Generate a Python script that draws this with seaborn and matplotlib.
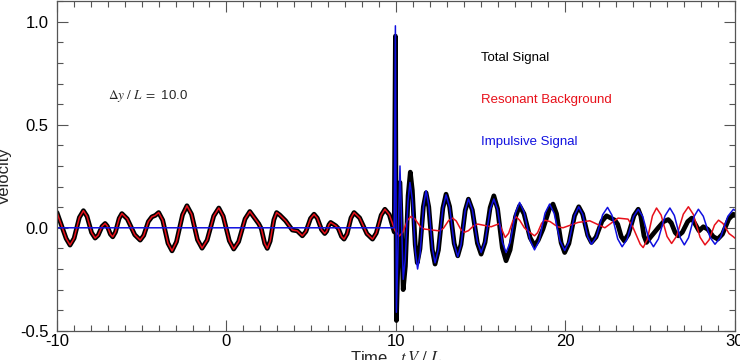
import matplotlib
matplotlib.use('Agg')
import matplotlib.pyplot as plt
import seaborn as sns
from matplotlib.ticker import MultipleLocator

# Resonant background
t_bg = [-10.0, -9.46, -9.23, -8.99, -8.68, -8.44, -8.23, -7.96, -7.75, -7.57,
        -7.34, -7.16, -7.03, -6.85, -6.71, -6.55, -6.33, -6.17, -5.85, -5.41,
        -5.09, -4.88, -4.61, -4.40, -4.20, -4.00, -3.76, -3.45, -3.21, -2.95,
        -2.59, -2.33, -2.06, -1.71, -1.44, -1.14, -0.75, -0.45, -0.19, 0.17,
        0.43, 0.72, 1.10, 1.38, 1.55, 1.91, 2.06, 2.26, 2.41, 2.58,
        2.80, 2.96, 3.15, 3.49, 3.89, 4.18, 4.48, 4.69, 4.96, 5.17,
        5.36, 5.61, 5.80, 5.91, 6.05, 6.15, 6.45, 6.60, 6.79, 6.94,
        7.12, 7.35, 7.53, 7.86, 8.29, 8.62, 8.84, 9.13, 9.35, 9.61,
        9.95, 10.2, 10.41, 10.68, 10.89, 11.12, 11.44, 11.67, 12.56, 12.80,
        13.11, 13.35, 13.56, 13.83, 14.04, 14.28, 14.59, 14.83, 15.62, 16.1,
        16.45, 16.65, 16.9, 17.1, 17.31, 17.58, 17.79, 18.18, 18.36, 18.6,
        18.78, 19.1, 19.54, 19.86, 20.75, 21.44, 22.33, 23.11, 23.7, 24.0,
        24.42, 24.59, 24.83, 25.14, 25.38, 25.65, 26.0, 26.27, 26.57, 26.96,
        27.26, 27.55, 27.95, 28.24, 28.48, 28.80, 29.04, 29.30, 29.66, 29.92,
        30.0]
v_bg = [0.074, -0.052, -0.084, -0.051, 0.050, 0.083, 0.056, -0.023, -0.05, -0.036,
        0.007, 0.021, 0.008, -0.031, -0.044, -0.021, 0.046, 0.069, 0.043, -0.034,
        -0.06, -0.037, 0.030, 0.053, 0.060, 0.074, 0.037, -0.075, -0.112, -0.068,
        0.063, 0.107, 0.066, -0.058, -0.099, -0.060, 0.057, 0.096, 0.056, -0.063,
        -0.103, -0.067, 0.043, 0.079, 0.060, 0.019, -0.005, -0.076, -0.10, -0.065,
        0.039, 0.074, 0.062, 0.034, -0.011, -0.015, -0.039, -0.018, 0.045, 0.066,
        0.047, -0.009, -0.028, -0.017, 0.015, 0.026, 0.01, -0.003, -0.042, -0.055,
        -0.029, 0.048, 0.074, 0.048, -0.029, -0.055, -0.026, 0.061, 0.09, 0.064,
        -0.014, -0.04, -0.021, 0.036, 0.055, 0.043, 0.006, -0.006, -0.015, -0.003,
        0.035, 0.047, 0.033, -0.008, -0.022, -0.014, 0.010, 0.018, 0.005, 0.02,
        -0.047, -0.027, 0.033, 0.053, 0.036, 0.0, -0.015, -0.039, -0.024, 0.022,
        0.037, 0.03, 0.005, 0.0, 0.026, 0.034, 0.0, 0.047, 0.042, 0.0,
        -0.08, -0.096, -0.058, 0.058, 0.096, 0.062, -0.042, -0.076, -0.040, 0.066,
        0.102, 0.065, -0.046, -0.083, -0.059, 0.013, 0.037, 0.021, -0.028, -0.044,
        -0.05]

# Impulsive signal (zero until the pulse at t = 10)
t_imp = [-10.0, 9.9, 9.97, 10.03, 10.24, 10.43, 10.55, 10.71, 10.83, 10.97,
         11.15, 11.28, 11.43, 11.63, 11.78, 11.94, 12.15, 12.31, 12.51, 12.77,
         12.96, 13.17, 13.44, 13.65, 13.84, 14.09, 14.28, 14.51, 14.81, 15.03,
         15.26, 15.56, 15.78, 16.0, 16.28, 16.5, 16.74, 17.06, 17.30, 17.56,
         17.92, 18.18, 18.45, 18.80, 19.07, 19.34, 19.69, 19.96, 20.21, 20.54,
         20.79, 21.02, 21.32, 21.54, 21.83, 22.20, 22.49, 22.75, 23.09, 23.35,
         23.64, 24.02, 24.30, 24.57, 24.93, 25.2, 25.49, 25.88, 26.17, 26.43,
         26.77, 27.02, 27.27, 27.60, 27.85, 28.14, 28.54, 28.83, 29.16, 29.59,
         29.92, 30.0]
v_imp = [0.0, 0.0, 0.98, -0.41, 0.30, -0.25, -0.156, 0.126, 0.22, 0.136,
         -0.116, -0.20, -0.124, 0.104, 0.18, 0.11, -0.10, -0.17, -0.104, 0.094,
         0.16, 0.10, -0.08, -0.14, -0.084, 0.084, 0.14, 0.088, -0.068, -0.12,
         -0.068, 0.088, 0.14, 0.088, -0.068, -0.12, -0.071, 0.074, 0.123, 0.077,
         -0.061, -0.107, -0.063, 0.071, 0.115, 0.07, -0.065, -0.11, -0.068, 0.06,
         0.102, 0.066, -0.044, -0.08, -0.044, 0.063, 0.099, 0.061, -0.054, -0.092,
         -0.056, 0.054, 0.09, 0.054, -0.056, -0.092, -0.054, 0.058, 0.096, 0.06,
         -0.047, -0.083, -0.048, 0.055, 0.09, 0.056, -0.046, -0.08, -0.046, 0.056,
         0.09, 0.085]

# Total signal from the pulse on (before it the total equals the background)
t_tot_after = [9.9, 9.97, 10.03, 10.24, 10.43, 10.56, 10.72, 10.85, 10.97, 11.14,
               11.26, 11.42, 11.62, 11.78, 11.94, 12.15, 12.31, 12.51, 12.77, 12.96,
               13.17, 13.44, 13.65, 13.84, 14.09, 14.28, 14.51, 14.81, 15.03, 15.26,
               15.56, 15.78, 16.0, 16.28, 16.5, 16.74, 17.06, 17.30, 17.56, 17.92,
               18.18, 18.40, 18.68, 19.05, 19.27, 19.48, 19.75, 19.96, 20.21, 20.54,
               20.79, 21.02, 21.32, 21.54, 21.81, 22.16, 22.43, 22.92, 23.09, 23.30,
               23.47, 23.72, 24.05, 24.30, 24.45, 24.64, 24.79, 25.0, 25.48, 25.8,
               26.07, 26.25, 26.48, 26.66, 26.90, 27.22, 27.46, 27.89, 28.14, 28.40,
               28.73, 28.99, 29.27, 29.64, 29.92, 30.0]
v_tot_after = [-0.02, 0.93, -0.45, 0.22, -0.30, -0.186, 0.156, 0.27, 0.182, -0.082,
               -0.17, -0.102, 0.102, 0.17, 0.101, -0.107, -0.176, -0.108, 0.095, 0.163,
               0.103, -0.076, -0.136, -0.081, 0.084, 0.139, 0.086, -0.075, -0.128, -0.071,
               0.098, 0.155, 0.092, -0.097, -0.16, -0.107, 0.054, 0.107, 0.068, -0.048,
               -0.087, -0.06, -0.006, 0.09, 0.115, 0.068, -0.073, -0.12, -0.076, 0.058,
               0.102, 0.067, -0.036, -0.071, -0.045, 0.032, 0.058, 0.037, 0.017, -0.043,
               -0.063, -0.032, 0.059, 0.09, 0.058, -0.039, -0.071, -0.048, 0.0, 0.03,
               0.04, 0.024, -0.023, -0.039, -0.022, 0.03, 0.047, -0.015, 0.005, -0.007,
               -0.043, -0.055, -0.031, 0.042, 0.066, 0.06]

n_pre = sum(1 for t in t_bg if t < 9.9)
t_tot = t_bg[:n_pre] + t_tot_after
v_tot = v_bg[:n_pre] + v_tot_after

sns.set_style('ticks')
plt.rcParams['font.family'] = ['Liberation Sans', 'DejaVu Sans']
plt.rcParams['mathtext.fontset'] = 'stix'

fig = plt.figure(figsize=(7.4, 3.6), dpi=100)
ax = fig.add_axes([0.077, 0.081, 0.916, 0.916])

line_kw = dict(sort=False, estimator=None, ax=ax)
sns.lineplot(x=t_tot, y=v_tot, color='black', lw=3.4, **line_kw)
sns.lineplot(x=t_bg, y=v_bg, color='#e8101a', lw=1.1, **line_kw)
sns.lineplot(x=t_imp, y=v_imp, color='#1010e0', lw=1.1, **line_kw)
for ln in ax.lines:
    ln.set_solid_joinstyle('round')

ax.set_xlim(-10, 30)
ax.set_ylim(-0.5, 1.1)
ax.set_xticks([-10, 0, 10, 20, 30])
ax.set_xticklabels(['-10', '0', '10', '20', '30'])
ax.set_yticks([-0.5, 0.0, 0.5, 1.0])
ax.set_yticklabels(['-0.5', '0.0', '0.5', '1.0'])
ax.xaxis.set_minor_locator(MultipleLocator(1))
ax.yaxis.set_minor_locator(MultipleLocator(0.1))
ax.tick_params(which='both', direction='in', top=True, right=True, labelsize=12,
               colors='#555555', labelcolor='black')
ax.tick_params(which='major', length=8, width=0.8)
ax.tick_params(which='minor', length=4, width=0.8)
ax.tick_params(axis='x', pad=2)
ax.tick_params(axis='y', pad=6)
for s in ax.spines.values():
    s.set_color('#555555')
    s.set_linewidth(0.9)

ax.set_ylabel('Velocity', fontsize=12)
ax.yaxis.set_label_coords(-0.066, 0.47)
ax.set_xlabel(r'Time,  $t\,V\ /\ L$', fontsize=12)
ax.xaxis.set_label_coords(0.5, -0.055)
ax.xaxis.label.set_verticalalignment('top')

ax.text(-6.98, 0.64, r'$\Delta y\ /\ L\ =$ 10.0', fontsize=9.5, va='center')
ax.text(15.03, 0.825, 'Total Signal', color='black', fontsize=9.5, va='center')
ax.text(15.03, 0.621, 'Resonant Background', color='#e8101a', fontsize=9.5, va='center')
ax.text(15.03, 0.417, 'Impulsive Signal', color='#1010e0', fontsize=9.5, va='center')

fig.savefig('out.png', dpi=100)
